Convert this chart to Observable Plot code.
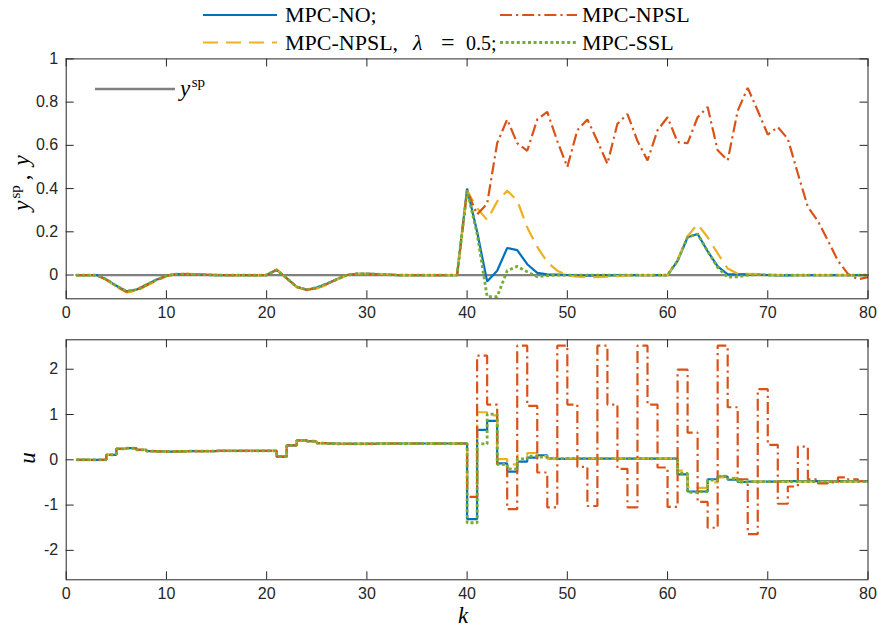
<!DOCTYPE html>
<html><head><meta charset="utf-8">
<script src="https://cdn.jsdelivr.net/npm/d3@7"></script>
<script src="https://cdn.jsdelivr.net/npm/@observablehq/plot@0.6"></script>
<style>
body{margin:0;background:#fff;}
#wrap{position:relative;width:878px;height:631px;overflow:hidden;background:#fff;}
#top,#bot{position:absolute;left:0;}
#top{top:0px}
#bot{top:320px}
#overlay{position:absolute;left:0;top:0;}
</style></head><body>
<div id="wrap"><div id="top"></div><div id="bot"></div>
<svg id="overlay" width="878" height="631"></svg></div>
<script>
// ---- data ----
const k = [1,2,3,4,5,6,7,8,9,10,11,12,13,14,15,16,17,18,19,20,21,22,23,24,25,26,27,28,29,30,31,32,33,34,35,36,37,38,39,40,41,42,43,44,45,46,47,48,49,50,51,52,53,54,55,56,57,58,59,60,61,62,63,64,65,66,67,68,69,70,71,72,73,74,75,76,77,78,79,80];
const xTicks = [0,10,20,30,40,50,60,70,80];
const yTicksTop = [0,0.2,0.4,0.6,0.8,1];
const yTicksBot = [-2,-1,0,1,2];
const seriesNames = ["MPC-NO;", "MPC-NPSL,  λ = 0.5;", "MPC-NPSL", "MPC-SSL"];

const ySp = [0,0,0,0,0,0,0,0,0,0,0,0,0,0,0,0,0,0,0,0,0,0,0,0,0,0,0,0,0,0,0,0,0,0,0,0,0,0,0,0,0,0,0,0,0,0,0,0,0,0,0,0,0,0,0,0,0,0,0,0,0,0,0,0,0,0,0,0,0,0,0,0,0,0,0,0,0,0,0,0];
const yNO = [0,0,0,-0.02,-0.05,-0.075,-0.068,-0.045,-0.022,-0.003,
  0.004,0.004,0.003,0.001,0,0,0,0,0,0,
  0.024,-0.015,-0.055,-0.068,-0.058,-0.04,-0.02,0,0.005,0.005,
  0.004,0.002,0,0,0,0,0,0,0,0.40,
  0.20,-0.03,0.02,0.125,0.115,0.05,0.01,0.003,0.002,0,
  -0.002,-0.003,-0.003,-0.002,-0.001,0,0,0,0,0,
  0.066,0.175,0.19,0.11,0.04,0.003,0.003,0.004,0.002,0,
  -0.002,-0.002,-0.001,0,0,0,0,0,0,0];
const yLam = [0,0,0,-0.022,-0.055,-0.08,-0.075,-0.05,-0.027,-0.005,
  0.005,0.005,0.004,0.002,0.001,0,0,0,0,0,
  0.025,-0.015,-0.055,-0.07,-0.062,-0.045,-0.022,0,0.006,0.006,
  0.005,0.003,0.001,0,0,0,0,0,0,0.39,
  0.31,0.255,0.34,0.39,0.345,0.22,0.13,0.06,0.02,-0.002,
  -0.008,-0.01,-0.01,-0.008,-0.005,-0.002,0,0,0,0,
  0.07,0.18,0.235,0.175,0.10,0.03,0.006,0.006,0.004,0.002,
  0,-0.001,-0.001,0,0,0,0,0,0,0];
const yNPSL = [0,0,0,-0.021,-0.052,-0.077,-0.07,-0.047,-0.024,-0.004,
  0.004,0.004,0.003,0.001,0,0,0,0,0,0,
  0.024,-0.015,-0.055,-0.069,-0.06,-0.042,-0.021,0,0.005,0.005,
  0.004,0.002,0,0,0,0,0,0,0,0.39,
  0.28,0.33,0.61,0.72,0.61,0.575,0.72,0.755,0.62,0.50,
  0.67,0.72,0.62,0.515,0.70,0.745,0.62,0.53,0.67,0.73,
  0.615,0.61,0.73,0.777,0.577,0.53,0.76,0.866,0.76,0.65,
  0.685,0.63,0.47,0.315,0.25,0.16,0.066,0.005,-0.02,-0.01];
const ySSL = [0,0,0,-0.02,-0.05,-0.075,-0.068,-0.045,-0.022,-0.003,
  0.004,0.004,0.003,0.001,0,0,0,0,0,0,
  0.024,-0.015,-0.055,-0.068,-0.058,-0.04,-0.02,0,0.005,0.005,
  0.004,0.002,0,0,0,0,0,0,0,0.39,
  0.19,-0.10,-0.10,0.02,0.04,0.015,-0.008,-0.003,0,0,
  0,0,0,0,0,0,0,0,0,0,
  0.066,0.175,0.19,0.11,0.035,-0.01,-0.008,0,0.002,0,
  0,0,0,0,0,0,0,0,0,0];

const uNO = [0,0,0,0.11,0.24,0.26,0.22,0.19,0.185,0.18,
  0.185,0.19,0.19,0.19,0.195,0.195,0.195,0.195,0.195,0.195,
  0.07,0.32,0.43,0.41,0.37,0.36,0.355,0.355,0.355,0.355,
  0.36,0.36,0.36,0.36,0.36,0.36,0.36,0.36,0.36,-1.31,
  0.66,0.86,-0.08,-0.26,-0.04,0.05,0.10,0.03,0.02,0.02,
  0.025,0.025,0.025,0.025,0.025,0.025,0.025,0.025,0.025,0.025,
  -0.32,-0.70,-0.70,-0.43,-0.37,-0.44,-0.49,-0.48,-0.48,-0.48,
  -0.47,-0.47,-0.47,-0.47,-0.47,-0.47,-0.47,-0.47,-0.47,-0.47];
const uLam = [0,0,0,0.11,0.24,0.26,0.22,0.19,0.185,0.18,
  0.185,0.19,0.19,0.19,0.195,0.195,0.195,0.195,0.195,0.195,
  0.07,0.32,0.43,0.41,0.37,0.36,0.355,0.355,0.355,0.355,
  0.36,0.36,0.36,0.36,0.36,0.36,0.36,0.36,0.36,-0.55,
  1.05,0.98,0.015,-0.10,0.10,0.15,0.08,0.04,0.03,0.03,
  0.03,0.03,0.03,0.03,0.03,0.03,0.03,0.03,0.03,0.03,
  -0.24,-0.60,-0.62,-0.50,-0.39,-0.40,-0.47,-0.48,-0.48,-0.48,
  -0.48,-0.48,-0.48,-0.48,-0.48,-0.48,-0.48,-0.48,-0.48,-0.48];
const uNPSL = [0,0,0,0.11,0.24,0.26,0.22,0.19,0.185,0.18,
  0.185,0.19,0.19,0.19,0.195,0.195,0.195,0.195,0.195,0.195,
  0.07,0.32,0.43,0.41,0.37,0.36,0.355,0.355,0.355,0.355,
  0.36,0.36,0.36,0.36,0.36,0.36,0.36,0.36,0.36,-0.82,
  2.30,1.22,-0.10,-1.09,2.52,1.19,-0.28,-1.05,2.52,1.22,
  -0.155,-1.02,2.52,1.22,-0.20,-1.05,2.52,1.22,-0.17,-1.04,
  1.99,0.60,-0.93,-1.50,2.52,1.16,-0.43,-1.64,1.56,0.33,
  -0.97,-0.59,0.29,-0.43,-0.52,-0.50,-0.39,-0.43,-0.47,-0.47];
const uSSL = [0,0,0,0.11,0.24,0.26,0.22,0.19,0.185,0.18,
  0.185,0.19,0.19,0.19,0.195,0.195,0.195,0.195,0.195,0.195,
  0.07,0.32,0.43,0.41,0.37,0.36,0.355,0.355,0.355,0.355,
  0.36,0.36,0.36,0.36,0.36,0.36,0.36,0.36,0.36,-1.39,
  0.35,1.01,-0.10,-0.20,0.02,0.08,0.06,0.03,0.025,0.025,
  0.025,0.025,0.025,0.025,0.025,0.025,0.025,0.025,0.025,0.025,
  -0.30,-0.72,-0.70,-0.45,-0.36,-0.42,-0.49,-0.48,-0.48,-0.48,
  -0.48,-0.48,-0.48,-0.48,-0.48,-0.48,-0.48,-0.48,-0.48,-0.48];

// ---- styles ----
const AX = "#262626";
const styles = [
  {stroke:"#0072BD", dash:null, w:2.2},
  {stroke:"#EDB120", dash:"15,8", w:2.2},
  {stroke:"#D95319", dash:"12,4,2.2,4", w:2.2},
  {stroke:"#77AC30", dash:"3,2.6", w:2.8}
];
const rows = arr => k.map((kv,i)=>({k:kv, v:arr[i]}));

const W = 878, mL = 65.7, mR = 10.5, TL = 8;
const plotW = W - mL - mR;

function panel({height, mT, mB, domain, yTicks, series, sp, curve}) {
  const plotH = height - mT - mB;
  const marks = [];
  if (sp) marks.push(Plot.line(rows(sp), {x:"k", y:"v", stroke:"#808080", strokeWidth:2.3}));
  series.forEach((s,i)=>{
    const st = styles[i];
    marks.push(Plot.line(rows(s), {x:"k", y:"v", stroke:st.stroke, strokeWidth:st.w,
      strokeDasharray:st.dash, strokeLinecap:"butt", strokeLinejoin:"miter", curve}));
  });
  marks.push(
    Plot.tickY(yTicks, {y:d=>d, insetRight: plotW-TL, stroke:AX, strokeWidth:1}),
    Plot.tickY(yTicks, {y:d=>d, insetLeft: plotW-TL, stroke:AX, strokeWidth:1}),
    Plot.tickX(xTicks, {x:d=>d, insetTop: plotH-TL, stroke:AX, strokeWidth:1}),
    Plot.tickX(xTicks, {x:d=>d, insetBottom: plotH-TL, stroke:AX, strokeWidth:1}),
    Plot.frame({stroke:AX, strokeWidth:1}),
    Plot.axisY({ticks:yTicks, tickSize:0, tickPadding:8, tickFormat:d=>String(d), label:null}),
    Plot.axisX({ticks:xTicks, tickSize:0, tickPadding:8, tickFormat:d=>String(d), label:null})
  );
  return Plot.plot({
    width: W, height, marginTop:mT, marginBottom:mB, marginLeft:mL, marginRight:mR,
    x:{domain:[0,80]}, y:{domain},
    style:{fontFamily:"'Liberation Sans', Arial, sans-serif", fontSize:"16px", color:AX, background:"transparent"},
    marks
  });
}

document.getElementById("top").append(panel({
  height:320, mT:58.4, mB:21.7, domain:[-0.11,1], yTicks:yTicksTop,
  series:[yNO, yLam, yNPSL, ySSL], sp:ySp, curve:"linear"
}));
document.getElementById("bot").append(panel({
  height:311, mT:19.3, mB:51.7, domain:[-2.65,2.65], yTicks:yTicksBot,
  series:[uNO, uLam, uNPSL, uSSL], sp:null, curve:"step-after"
}));

// ---- overlay: legend & axis labels ----
const ov = d3.select("#overlay");
const serif = "'Liberation Serif', 'Times New Roman', serif";
const leg = [
  {x1:203, x2:277, y:15, i:0, tx:285},
  {x1:203, x2:277, y:42.5, i:1, tx:285},
  {x1:500, x2:577, y:15, i:2, tx:582},
  {x1:500, x2:577, y:42.5, i:3, tx:582}
];
leg.forEach(L=>{
  const st = styles[L.i];
  ov.append("line").attr("x1",L.x1).attr("x2",L.x2).attr("y1",L.y).attr("y2",L.y)
    .attr("stroke",st.stroke).attr("stroke-width",st.w).attr("stroke-dasharray",st.dash);
  const t = ov.append("text").attr("x",L.tx).attr("y",L.y+7)
    .attr("font-family",serif).attr("font-size",22).attr("fill","#000");
  if (L.i===1) {
    t.append("tspan").text("MPC-NPSL,");
    t.append("tspan").attr("x",413).attr("font-style","italic").text("λ");
    t.append("tspan").attr("x",441).attr("font-size",24).text("=");
    t.append("tspan").attr("x",466).attr("font-size",20).text("0.5;");
  } else {
    t.text(seriesNames[L.i]);
  }
});
// y^sp legend in top panel
ov.append("line").attr("x1",95).attr("x2",175).attr("y1",89).attr("y2",89)
  .attr("stroke","#808080").attr("stroke-width",2.3);
const ysl = ov.append("text").attr("x",180).attr("y",96).attr("font-family",serif).attr("font-size",23).attr("fill","#000");
ysl.append("tspan").attr("font-style","italic").text("y");
ysl.append("tspan").attr("font-size",15).attr("dy",-9).attr("dx",1.5).text("sp");

// y label top
const yl = ov.append("text").attr("transform","translate(29,183) rotate(-90)").attr("text-anchor","middle")
  .attr("font-family",serif).attr("font-size",23).attr("fill","#000");
yl.append("tspan").attr("font-style","italic").text("y");
yl.append("tspan").attr("font-size",15).attr("dy",-9).attr("dx",2).text("sp");
yl.append("tspan").attr("dy",9).attr("dx",5).text(",");
yl.append("tspan").attr("font-style","italic").attr("dx",9).text("y");
// u label
ov.append("text").attr("transform","translate(35,458) rotate(-90)").attr("text-anchor","middle")
  .attr("font-family",serif).attr("font-size",23).attr("font-style","italic").attr("fill","#000").text("u");
// k label
ov.append("text").attr("x",463).attr("y",623).attr("text-anchor","middle")
  .attr("font-family",serif).attr("font-size",23).attr("font-style","italic").attr("fill","#000").text("k");
</script>
</body></html>
